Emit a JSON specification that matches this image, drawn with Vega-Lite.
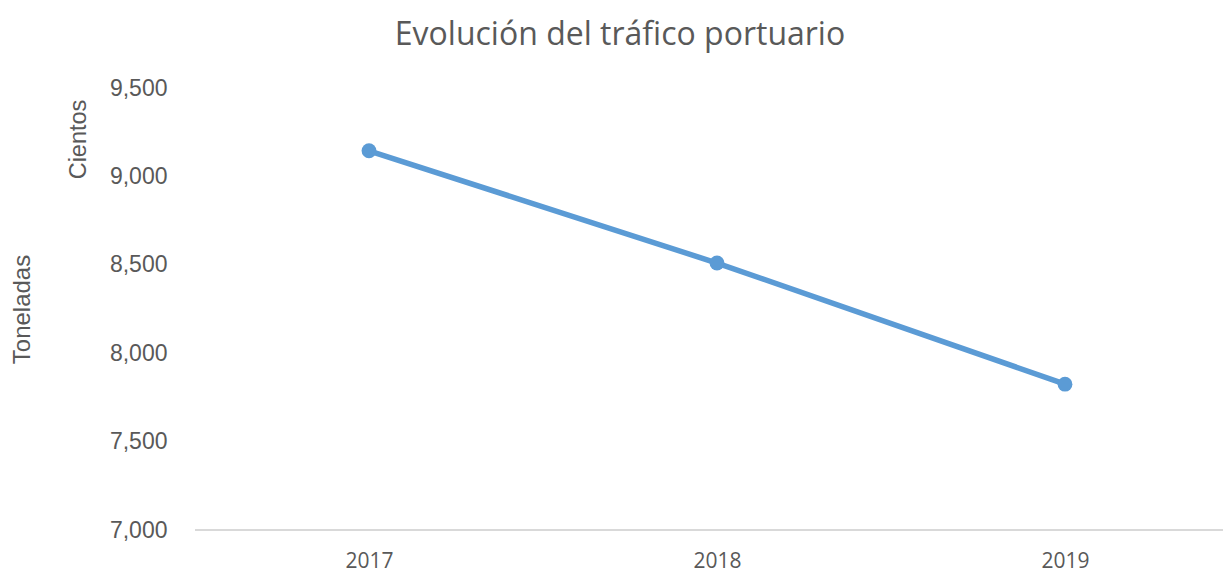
{
  "$schema": "https://vega.github.io/schema/vega-lite/v6.json",
  "autosize": "none",
  "width": 1028,
  "height": 442,
  "padding": {"left": 195, "top": 88, "right": 0, "bottom": 43},
  "background": "white",
  "title": {
    "text": "Evolución del tráfico portuario",
    "font": "Open Sans",
    "fontSize": 32,
    "fontWeight": "normal",
    "color": "#595959",
    "anchor": "middle",
    "dx": -89,
    "baseline": "alphabetic",
    "offset": 0
  },
  "data": {
    "values": [
      {"year": "2017", "tons": 9145},
      {"year": "2018", "tons": 8510},
      {"year": "2019", "tons": 7825}
    ]
  },
  "config": {
    "view": {"stroke": null},
    "axis": {"grid": false}
  },
  "resolve": {"axis": {"y": "independent"}},
  "layer": [
    {
      "mark": {"type": "rule", "color": "#d9d9d9", "strokeWidth": 1.5},
      "encoding": {
        "y": {"datum": 7000, "type": "quantitative", "axis": null}
      }
    },
    {
      "mark": {"type": "line", "color": "#5B9BD5", "strokeWidth": 5.5},
      "encoding": {
        "x": {
          "field": "year",
          "type": "ordinal",
          "scale": {"type": "point", "range": [174, 870], "padding": 0},
          "axis": {
            "title": null,
            "labelAngle": 0,
            "labelFont": "Open Sans",
            "labelFontSize": 21,
            "labelColor": "#595959",
            "labelPadding": 20,
            "ticks": false,
            "domain": false
          }
        },
        "y": {
          "field": "tons",
          "type": "quantitative",
          "scale": {"domain": [7000, 9500], "nice": false, "zero": false},
          "axis": {
            "orient": "left",
            "values": [7000, 7500, 8000, 8500, 9000, 9500],
            "format": ",d",
            "title": "Toneladas",
            "titleFont": "Liberation Sans",
            "titleFontSize": 24,
            "titleFontWeight": "normal",
            "titleColor": "#595959",
            "titleAngle": 270,
            "titleAlign": "center",
            "titleBaseline": "middle",
            "titleX": -173,
            "titleY": 221,
            "labelFont": "Liberation Sans",
            "labelFontSize": 23,
            "labelColor": "#595959",
            "labelPadding": 28,
            "ticks": false,
            "domain": false
          }
        }
      }
    },
    {
      "mark": {"type": "point", "filled": true, "color": "#5B9BD5", "opacity": 1, "size": 220},
      "encoding": {
        "x": {"field": "year", "type": "ordinal"},
        "y": {
          "field": "tons",
          "type": "quantitative",
          "axis": {
            "orient": "left",
            "values": [7000],
            "title": "Cientos",
            "titleFont": "Liberation Sans",
            "titleFontSize": 23.5,
            "titleFontWeight": "normal",
            "titleColor": "#595959",
            "titleAngle": 270,
            "titleAlign": "center",
            "titleBaseline": "middle",
            "titleX": -117,
            "titleY": 51,
            "labels": false,
            "ticks": false,
            "domain": false
          }
        }
      }
    }
  ]
}
